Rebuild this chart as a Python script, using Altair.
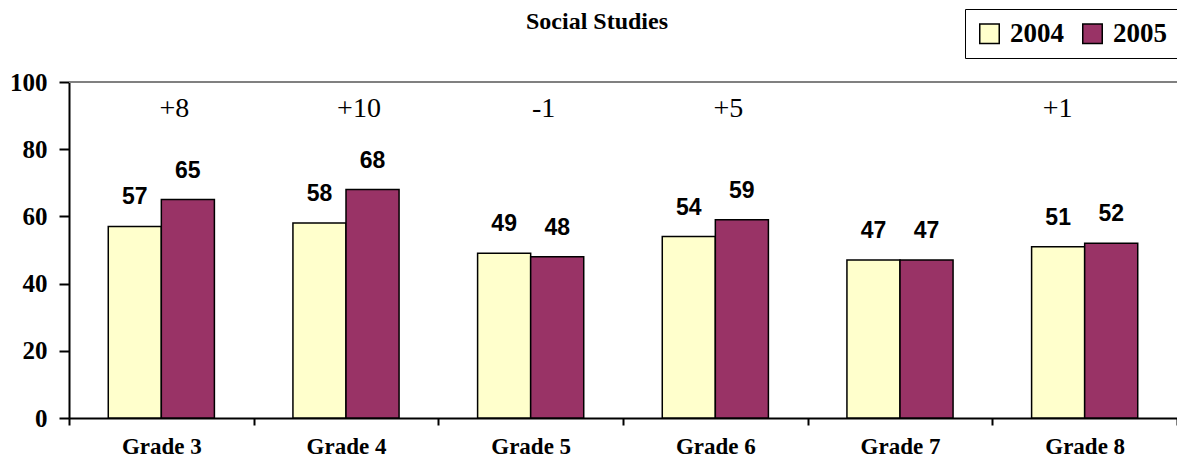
import altair as alt
import pandas as pd

title_text = ["Social Studies"]
grades = ["Grade 3", "Grade 4", "Grade 5", "Grade 6", "Grade 7", "Grade 8"]
years = ["2004", "2005"]
scores_2004 = [57, 58, 49, 54, 47, 51]
scores_2005 = [65, 68, 48, 59, 47, 52]
y_ticks = [0, 20, 40, 60, 80, 100]
colors = ["#FFFFCC", "#993366"]

rows = []
for g, a, b in zip(grades, scores_2004, scores_2005):
    rows.append({"grade": g, "year": "2004", "score": a})
    rows.append({"grade": g, "year": "2005", "score": b})
df = pd.DataFrame(rows)

changes = [b - a for a, b in zip(scores_2004, scores_2005)]
diff_df = pd.DataFrame({
    "grade": grades,
    "label": [f"{d:+d}" if d != 0 else "" for d in changes],
})

serif = "Liberation Serif"
sans = "Liberation Sans"

x_enc = alt.X(
    "grade:N", sort=grades,
    scale=alt.Scale(paddingInner=0, paddingOuter=0),
    axis=alt.Axis(
        title=None, labelAngle=0, tickBand="extent", tickSize=7, tickWidth=2,
        tickColor="black", domainColor="black", domainWidth=2,
        labelFont=serif, labelFontWeight="bold", labelFontSize=23,
        labelColor="black", labelPadding=10,
    ),
)
xo_enc = alt.XOffset("year:N", sort=years,
                     scale=alt.Scale(paddingInner=0, paddingOuter=0.74))
y_enc = alt.Y(
    "score:Q", scale=alt.Scale(domain=[0, 100]),
    axis=alt.Axis(
        values=y_ticks, title=None, grid=False, tickSize=10, tickWidth=2,
        tickColor="black", domainColor="black", domainWidth=2,
        labelFont=serif, labelFontWeight="bold", labelFontSize=25,
        labelColor="black", labelPadding=12,
    ),
)

top_rule = alt.Chart(pd.DataFrame({"v": [y_ticks[-1]]})).mark_rule(
    color="#808080", strokeWidth=2
).encode(y=alt.Y("v:Q"))

bars = alt.Chart(df).mark_bar(stroke="black", strokeWidth=1.5).encode(
    x=x_enc, xOffset=xo_enc, y=y_enc,
    color=alt.Color(
        "year:N", sort=years,
        scale=alt.Scale(domain=years, range=colors),
        legend=alt.Legend(
            title=None, orient="none", legendX=896, legendY=-73,
            direction="horizontal", symbolType="square", symbolSize=380,
            symbolStrokeColor="black", symbolStrokeWidth=1.5,
            labelFont=serif, labelFontWeight="bold", labelFontSize=27,
            labelColor="black", labelOffset=7, columnPadding=15,
            strokeColor="black", padding=11, fillColor="white",
        ),
    ),
)

values = alt.Chart(df).mark_text(
    font=sans, fontWeight="bold", fontSize=23, dy=-29, baseline="middle",
    color="black",
).encode(x=x_enc, xOffset=xo_enc, y=y_enc, text="score:Q")

last_grade = grades[-1]
diffs = alt.Chart(diff_df).transform_filter(
    alt.datum.grade != last_grade
).mark_text(
    font=serif, fontSize=28, dx=13, baseline="middle", color="black"
).encode(x=x_enc, y=alt.datum(92), text="label:N")

diff_last = alt.Chart(diff_df).transform_filter(
    alt.datum.grade == last_grade
).mark_text(
    font=serif, fontSize=28, dx=-27, baseline="middle", color="black"
).encode(x=x_enc, y=alt.datum(92), text="label:N")

title = alt.Chart(pd.DataFrame({"t": title_text})).mark_text(
    font=serif, fontSize=24, fontWeight="bold", baseline="alphabetic",
    align="center", color="black",
).encode(x=alt.value(528), y=alt.value(-53), text="t:N")

chart = alt.layer(top_rule, bars, values, diffs, diff_last, title).properties(
    width=1108, height=336,
    autosize=alt.AutoSizeParams(type="none"),
    padding={"left": 61, "top": 74, "right": 0, "bottom": 39},
).configure_view(stroke=None)

chart.save("out.html", embed_options={"renderer": "svg", "actions": False})
